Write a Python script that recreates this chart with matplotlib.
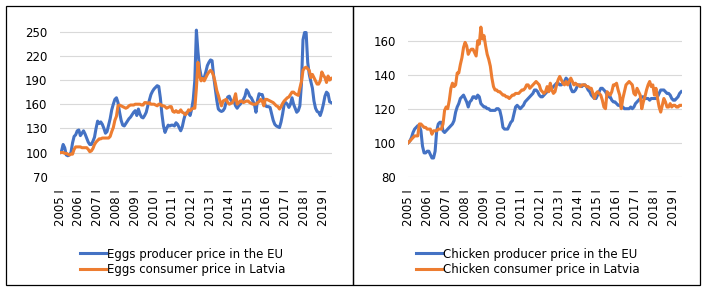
import matplotlib
matplotlib.use("Agg")
import matplotlib.pyplot as plt
from matplotlib.patches import Rectangle

# monthly index, 2005 I ... 2019 VI
years = list(range(2005, 2020))
tick_labels = [f"{y} I" for y in years]

eggs_producer_eu = [
    100, 102, 110, 106, 97, 96, 97, 100, 112, 120, 122, 127,
    128, 121, 124, 127, 123, 118, 113, 110, 110, 114, 119, 130,
    139, 136, 138, 135, 130, 124, 126, 134, 142, 153, 160, 166,
    168, 162, 150, 140, 134, 133, 136, 139, 142, 144, 147, 150,
    152, 146, 154, 148, 144, 143, 146, 150, 158, 165, 172, 176,
    179, 181, 183, 182, 168, 148, 133, 125, 130, 134, 133, 134,
    134, 133, 137, 135, 131, 127, 132, 141, 148, 150, 149, 146,
    154, 166, 190, 252, 225, 205, 195, 191, 193, 200, 208, 212,
    215, 214, 195, 180, 165, 154, 152, 151, 152, 155, 163, 169,
    170, 165, 163, 164, 158, 155, 158, 160, 163, 166, 170, 178,
    175, 170, 168, 164, 160, 150, 165, 173, 172, 172, 165, 158,
    157, 157, 156, 148, 140, 135, 133, 132, 131, 138, 148, 160,
    162, 160, 156, 160, 168, 160, 155, 150, 152, 158, 185, 240,
    249, 249, 212, 197, 188, 180, 164, 155, 151, 150, 146, 152,
    160, 170, 175, 173, 163, 162,
]

eggs_consumer_lv = [
    100, 100, 100, 99, 99, 98, 97, 98, 98, 104, 107, 107,
    107, 107, 106, 106, 106, 106, 104, 101, 102, 105, 110, 113,
    115, 117, 117, 118, 118, 118, 118, 118, 120, 126, 131, 140,
    145, 158, 159, 158, 157, 156, 155, 156, 158, 159, 159, 159,
    160, 160, 160, 160, 159, 159, 162, 162, 161, 162, 160, 160,
    160, 159, 158, 160, 160, 158, 158, 157, 155, 156, 157, 157,
    151, 150, 152, 150, 150, 153, 150, 149, 147, 149, 153, 152,
    154, 155, 155, 180, 212, 195, 189, 192, 189, 193, 197, 200,
    202, 200, 195, 187, 177, 171, 164, 158, 164, 165, 166, 162,
    160, 161, 162, 166, 173, 160, 162, 164, 164, 162, 163, 164,
    164, 162, 161, 160, 160, 160, 162, 163, 166, 164, 158, 166,
    166, 165, 164, 163, 162, 160, 158, 157, 154, 157, 161, 164,
    166, 168, 169, 172, 175, 175, 173, 172, 171, 180, 188, 202,
    205, 206, 204, 202, 193, 197, 193, 189, 185, 185, 189, 200,
    196, 193, 187, 195, 190, 192,
]

chicken_producer_eu = [
    100, 101, 103, 106, 108, 109, 110, 110, 107, 98, 94, 94,
    95, 95, 93, 91, 91, 95, 107, 111, 112, 112, 107, 106,
    107, 108, 109, 110, 111, 113, 118, 121, 123, 126, 127, 128,
    126, 124, 121, 124, 125, 127, 127, 126, 128, 127, 123, 122,
    121, 121, 120, 120, 119, 119, 119, 119, 120, 120, 119, 115,
    109, 108, 108, 108, 110, 112, 113, 117, 121, 122, 121, 120,
    121, 122, 124, 125, 126, 127, 128, 129, 131, 131, 130, 128,
    127, 127, 128, 129, 130, 131, 131, 132, 133, 134, 135, 135,
    134, 134, 135, 136, 138, 137, 136, 132, 130, 130, 131, 133,
    134, 134, 133, 134, 134, 133, 131, 130, 128, 127, 126, 126,
    128, 130, 132, 132, 131, 130, 128, 127, 127, 125, 124, 124,
    123, 122, 122, 121, 121, 120, 120, 120, 120, 121, 120, 121,
    123, 124, 125, 126, 127, 127, 126, 126, 126, 125, 126, 126,
    126, 126, 127, 129, 131, 131, 131, 130, 129, 129, 128, 126,
    125, 125, 126, 127, 129, 130,
]

chicken_consumer_lv = [
    100, 101, 102, 103, 104, 104, 104, 111, 111, 110, 109, 109,
    108, 108, 108, 105, 107, 107, 107, 108, 108, 108, 111, 119,
    121, 120, 125, 132, 135, 133, 134, 141, 141, 146, 150, 156,
    159, 157, 152, 154, 155, 155, 153, 151, 160, 158, 168, 161,
    163, 157, 152, 149, 145, 138, 133, 131, 131, 130, 130, 129,
    128, 128, 127, 127, 126, 127, 128, 128, 129, 129, 129, 130,
    131, 131, 132, 134, 134, 132, 133, 134, 135, 136, 135, 134,
    131, 130, 129, 130, 133, 130, 135, 131, 129, 130, 134, 137,
    139, 137, 135, 134, 136, 134, 136, 138, 136, 134, 135, 134,
    134, 133, 134, 134, 134, 133, 133, 132, 132, 129, 126, 129,
    130, 129, 128, 125, 121, 120, 130, 129, 128, 130, 134, 134,
    135, 131, 128, 120, 126, 130, 134, 135, 136, 135, 134, 129,
    128, 132, 130, 128, 120, 124, 127, 131, 134, 136, 133, 134,
    128, 132, 126, 121, 118, 122, 126, 124, 121, 121, 123, 121,
    122, 122, 121, 121, 122, 122,
]

BLUE = "#4472C4"
ORANGE = "#ED7D31"
FS = 8.5

W, H = 707, 289
fig = plt.figure(figsize=(W / 100, H / 100), dpi=100)
fig.patch.set_facecolor("white")


def px(x0, y0, x1, y1):
    # pixel box -> figure fraction [left, bottom, width, height]
    return [x0 / W, 1 - y1 / H, (x1 - x0) / W, (y1 - y0) / H]


def style(ax, yticks, ylim):
    months = list(range(len(eggs_producer_eu)))
    ax.set_xlim(0, months[-1] + 0.5)
    ax.set_ylim(*ylim)
    ax.set_yticks(yticks)
    ax.set_xticks(months[::12])
    ax.set_xticklabels(tick_labels, rotation=90, fontsize=FS)
    ax.tick_params(axis="y", length=0, pad=9, labelsize=FS)
    ax.tick_params(axis="x", length=0, pad=9)
    ax.grid(axis="y", color="#D9D9D9", lw=0.8)
    ax.set_axisbelow(True)
    for s in ax.spines.values():
        s.set_visible(False)


months = list(range(len(eggs_producer_eu)))

# left panel: eggs
ax1 = fig.add_axes(px(60, 27.7, 332, 176.7))
l1, = ax1.plot(months, eggs_producer_eu, color=BLUE, lw=2.2,
               label="Eggs producer price in the EU")
l2, = ax1.plot(months, eggs_consumer_lv, color=ORANGE, lw=2.2,
               label="Eggs consumer price in Latvia")
style(ax1, range(70, 251, 30), (70, 255))

# right panel: chicken
ax2 = fig.add_axes(px(408.3, 20.3, 682, 176.7))
r1, = ax2.plot(months, chicken_producer_eu, color=BLUE, lw=2.2,
               label="Chicken producer price in the EU")
r2, = ax2.plot(months, chicken_consumer_lv, color=ORANGE, lw=2.2,
               label="Chicken consumer price in Latvia")
style(ax2, range(80, 161, 20), (80, 172))

for handles, cx in (([l1, l2], 183), ([r1, r2], 528)):
    fig.legend(handles=handles, loc="center", bbox_to_anchor=(cx / W, 1 - 262 / H),
               frameon=False, fontsize=FS, handlelength=2.2, handletextpad=0.1,
               labelspacing=0.25)

# panel borders
for x0, x1 in ((5.5, 353), (353, 700)):
    fig.patches.append(Rectangle((x0 / W, 1 - 285 / H), (x1 - x0) / W, (285 - 5.5) / H,
                                 transform=fig.transFigure, fill=False,
                                 edgecolor="black", lw=0.9))

fig.savefig("out.png", dpi=100)
